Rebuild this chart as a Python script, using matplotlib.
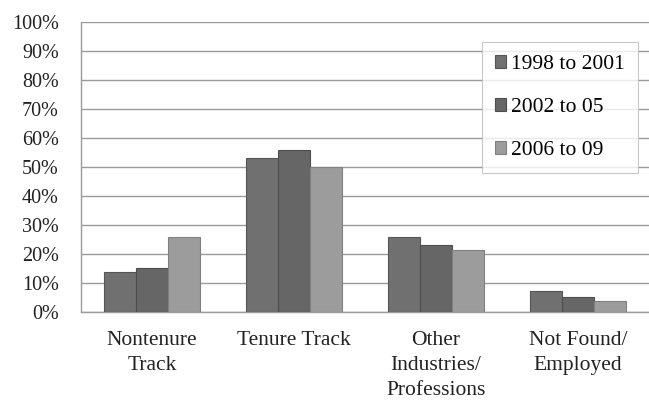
import matplotlib
matplotlib.use("Agg")
import matplotlib.pyplot as plt
import numpy as np

categories = ["Nontenure\nTrack", "Tenure Track", "Other\nIndustries/\nProfessions", "Not Found/\nEmployed"]
series_names = ["1998 to 2001", "2002 to 05", "2006 to 09"]
share_1998_2001 = [13.7, 53.2, 25.9, 7.3]
share_2002_05 = [15.1, 55.9, 23.2, 5.3]
share_2006_09 = [25.8, 49.8, 21.4, 3.6]
y_ticks = [0, 10, 20, 30, 40, 50, 60, 70, 80, 90, 100]

plt.rcParams["font.family"] = ["Liberation Serif", "DejaVu Serif"]

fig = plt.figure(figsize=(6.49, 4.04), dpi=100)
ax = fig.add_axes([0.125, 0.228, 0.875, 0.718])

x = np.arange(len(categories))
width = 0.227
colors = ["#707070", "#666666", "#9c9c9c"]
edges = ["#555555", "#4d4d4d", "#808080"]
for i, (vals, name) in enumerate(zip([share_1998_2001, share_2002_05, share_2006_09], series_names)):
    ax.bar(x + (i - 1) * width, vals, width, color=colors[i], edgecolor=edges[i],
           linewidth=0.8, label=name, zorder=3)

ax.set_xlim(-0.5, len(categories) - 0.5)
ax.set_ylim(0, 100)
ax.set_yticks(y_ticks)
ax.set_yticklabels([f"{t}%" for t in y_ticks], fontsize=14.5)
ax.set_xticks(x)
ax.set_xticklabels(categories, fontsize=15.5, linespacing=1.42)
ax.tick_params(axis="both", length=0, colors="#222222")
ax.tick_params(axis="y", pad=16)
ax.tick_params(axis="x", pad=14)
ax.yaxis.grid(True, color="#9a9a9a", linewidth=1.0, zorder=0)
for side in ["top", "right"]:
    ax.spines[side].set_visible(False)
for side in ["left", "bottom"]:
    ax.spines[side].set_color("#9a9a9a")
    ax.spines[side].set_linewidth(1.0)

leg = ax.legend(loc="upper right", bbox_to_anchor=(0.98, 0.93), fontsize=15.5,
                frameon=True, fancybox=False, handlelength=0.5, handleheight=0.5,
                handletextpad=0.25, labelspacing=1.12, borderpad=0.6, borderaxespad=0)
leg.get_frame().set_edgecolor("#bbbbbb")
leg.get_frame().set_linewidth(0.8)

fig.savefig("out.png", dpi=100)
